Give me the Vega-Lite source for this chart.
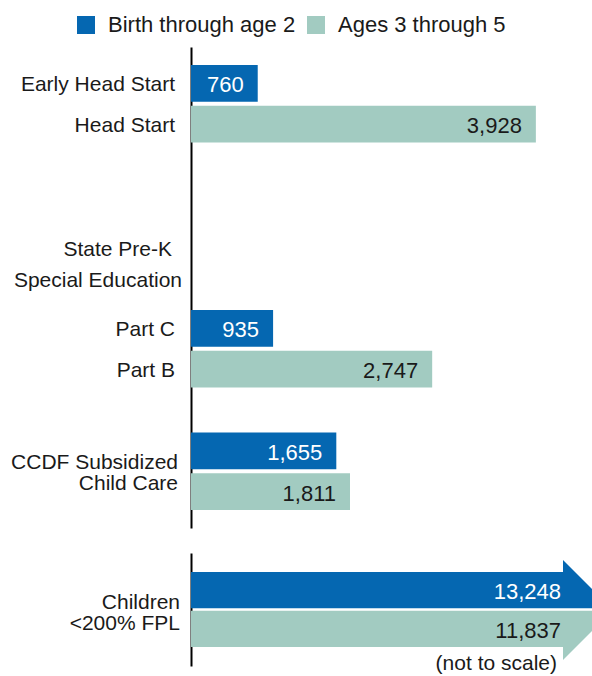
{
  "$schema": "https://vega.github.io/schema/vega-lite/v6.json",
  "autosize": {"type": "none"},
  "bounds": "flush",
  "padding": {"left": 191, "top": 47, "right": 401, "bottom": 629},
  "config": {"font": "Liberation Sans", "view": {"stroke": null}},
  "datasets": {
    "bars": [
      {"slot": "Early Head Start", "age": "Birth through age 2", "value": 760},
      {"slot": "Head Start", "age": "Ages 3 through 5", "value": 3928},
      {"slot": "Part C", "age": "Birth through age 2", "value": 935},
      {"slot": "Part B", "age": "Ages 3 through 5", "value": 2747},
      {"slot": "CCDF 0-2", "age": "Birth through age 2", "value": 1655},
      {"slot": "CCDF 3-5", "age": "Ages 3 through 5", "value": 1811}
    ],
    "labels": [
      {"slot": "Early Head Start", "label": "Early Head Start", "kind": "single"},
      {"slot": "Head Start", "label": "Head Start", "kind": "single"},
      {"slot": "State Pre-K", "label": "State Pre-K", "kind": "prek"},
      {"slot": "Special Education", "label": "Special Education", "kind": "sped"},
      {"slot": "Part C", "label": "Part C", "kind": "single"},
      {"slot": "Part B", "label": "Part B", "kind": "single"},
      {"slot": "CCDF 0-2", "label": "CCDF Subsidized\nChild Care", "kind": "pair"}
    ],
    "arrows": [
      {"slot": "Children 0-2", "age": "Birth through age 2", "value": 13248},
      {"slot": "Children 3-5", "age": "Ages 3 through 5", "value": 11837}
    ],
    "arrowlabels": [
      {"slot": "Children 0-2", "label": "Children\n<200% FPL"}
    ],
    "note": [
      {"slot": "Children 3-5", "note": "(not to scale)"}
    ]
  },
  "resolve": {"scale": {"x": "independent", "y": "independent", "color": "shared"}},
  "spacing": 25,
  "vconcat": [
    {
      "width": 372,
      "height": 481,
      "layer": [
        {
          "data": {"name": "bars"},
          "mark": {"type": "bar"},
          "encoding": {
            "y": {
              "field": "slot", "type": "nominal",
              "scale": {"domain": ["Early Head Start", "Head Start", "gap1", "gap2", "State Pre-K", "Special Education", "Part C", "Part B", "gap3", "CCDF 0-2", "CCDF 3-5"], "paddingInner": 0.1, "paddingOuter": 0.44},
              "axis": {"labels": false, "ticks": false, "title": null, "domain": true, "domainColor": "black", "domainWidth": 2}
            },
            "x": {"field": "value", "type": "quantitative", "scale": {"domain": [0, 4237], "clamp": true, "nice": false}, "axis": null},
            "color": {
              "field": "age", "type": "nominal",
              "scale": {"domain": ["Birth through age 2", "Ages 3 through 5"], "range": ["#0567b1", "#a2cbc1"]},
              "legend": {"orient": "none", "legendX": -116, "legendY": -33, "direction": "horizontal", "title": null, "symbolType": "square", "symbolSize": 324, "symbolStrokeWidth": 0, "labelFontSize": 22, "labelFont": "Liberation Sans", "labelColor": "#1a1a1a", "labelOffset": 11, "columnPadding": 9, "padding": 0, "labelLimit": 0}
            }
          }
        },
        {
          "data": {"name": "bars"},
          "mark": {"type": "text", "align": "right", "baseline": "middle", "dx": -14, "dy": 2, "fontSize": 22},
          "encoding": {
            "y": {"field": "slot", "type": "nominal"},
            "x": {"field": "value", "type": "quantitative"},
            "text": {"field": "value", "type": "quantitative", "format": ","},
            "fill": {"condition": {"test": "datum.age === 'Birth through age 2'", "value": "white"}, "value": "#1a1a1a"}
          }
        },
        {
          "data": {"name": "labels"},
          "transform": [{"filter": "datum.kind === 'single'"}],
          "mark": {"type": "text", "align": "right", "baseline": "middle", "dx": -16, "dy": 2, "fontSize": 21, "color": "#1a1a1a"},
          "encoding": {
            "y": {"field": "slot", "type": "nominal"},
            "x": {"datum": 0},
            "text": {"field": "label"}
          }
        },
        {
          "data": {"name": "labels"},
          "transform": [{"filter": "datum.kind === 'prek'"}],
          "mark": {"type": "text", "align": "right", "baseline": "middle", "dx": -19, "dy": 3, "fontSize": 21, "color": "#1a1a1a"},
          "encoding": {
            "y": {"field": "slot", "type": "nominal"},
            "x": {"datum": 0},
            "text": {"field": "label"}
          }
        },
        {
          "data": {"name": "labels"},
          "transform": [{"filter": "datum.kind === 'sped'"}],
          "mark": {"type": "text", "align": "right", "baseline": "middle", "dx": -9, "dy": -7, "fontSize": 21, "color": "#1a1a1a"},
          "encoding": {
            "y": {"field": "slot", "type": "nominal"},
            "x": {"datum": 0},
            "text": {"field": "label"}
          }
        },
        {
          "data": {"name": "labels"},
          "transform": [{"filter": "datum.kind === 'pair'"}],
          "mark": {"type": "text", "align": "right", "baseline": "middle", "dx": -13, "dy": 12, "fontSize": 21, "lineBreak": "\n", "lineHeight": 21, "color": "#1a1a1a"},
          "encoding": {
            "y": {"field": "slot", "type": "nominal"},
            "x": {"datum": 0},
            "text": {"field": "label"}
          }
        }
      ]
    },
    {
      "width": 372,
      "height": 113,
      "layer": [
        {
          "data": {"name": "arrows"},
          "mark": {"type": "bar"},
          "encoding": {
            "y": {
              "field": "slot", "type": "nominal",
              "scale": {"domain": ["Children 0-2", "Children 3-5"], "paddingInner": 0.07, "paddingOuter": 0.49},
              "axis": {"labels": false, "ticks": false, "title": null, "domain": true, "domainColor": "black", "domainWidth": 2}
            },
            "x": {"field": "value", "type": "quantitative", "scale": {"domain": [0, 4237], "clamp": true, "nice": false}, "axis": null},
            "color": {
              "field": "age", "type": "nominal",
              "scale": {"domain": ["Birth through age 2", "Ages 3 through 5"], "range": ["#0567b1", "#a2cbc1"]},
              "legend": {"orient": "none", "legendX": -116, "legendY": -33, "direction": "horizontal", "title": null, "symbolType": "square", "symbolSize": 324, "symbolStrokeWidth": 0, "labelFontSize": 22, "labelFont": "Liberation Sans", "labelColor": "#1a1a1a", "labelOffset": 11, "columnPadding": 9, "padding": 0, "labelLimit": 0}
            }
          }
        },
        {
          "data": {"name": "arrows"},
          "transform": [{"filter": "datum.age === 'Birth through age 2'"}],
          "mark": {"type": "point", "shape": "M0,-0.602L0.962,0.361L0,0.361Z", "size": 10000, "filled": true, "opacity": 1, "color": "#0567b1", "strokeWidth": 0},
          "encoding": {
            "y": {"field": "slot", "type": "nominal"},
            "x": {"field": "value", "type": "quantitative"}
          }
        },
        {
          "data": {"name": "arrows"},
          "transform": [{"filter": "datum.age === 'Ages 3 through 5'"}],
          "mark": {"type": "point", "shape": "M0,-0.361L0.98,-0.361L0,0.622Z", "size": 10000, "filled": true, "opacity": 1, "color": "#a2cbc1", "strokeWidth": 0},
          "encoding": {
            "y": {"field": "slot", "type": "nominal"},
            "x": {"field": "value", "type": "quantitative"}
          }
        },
        {
          "data": {"name": "arrows"},
          "mark": {"type": "text", "align": "right", "baseline": "middle", "dx": -2, "dy": 2, "fontSize": 22},
          "encoding": {
            "y": {"field": "slot", "type": "nominal"},
            "x": {"field": "value", "type": "quantitative"},
            "text": {"field": "value", "type": "quantitative", "format": ","},
            "fill": {"condition": {"test": "datum.age === 'Birth through age 2'", "value": "white"}, "value": "#1a1a1a"}
          }
        },
        {
          "data": {"name": "arrowlabels"},
          "mark": {"type": "text", "align": "right", "baseline": "middle", "dx": -11, "dy": 13, "fontSize": 21, "lineBreak": "\n", "lineHeight": 21, "color": "#1a1a1a"},
          "encoding": {
            "y": {"field": "slot", "type": "nominal"},
            "x": {"datum": 0},
            "text": {"field": "label"}
          }
        },
        {
          "data": {"name": "note"},
          "mark": {"type": "text", "align": "right", "baseline": "middle", "dx": -6, "dy": 35, "fontSize": 21, "color": "#1a1a1a"},
          "encoding": {
            "y": {"field": "slot", "type": "nominal"},
            "x": {"datum": 4237},
            "text": {"field": "note"}
          }
        }
      ]
    }
  ]
}
